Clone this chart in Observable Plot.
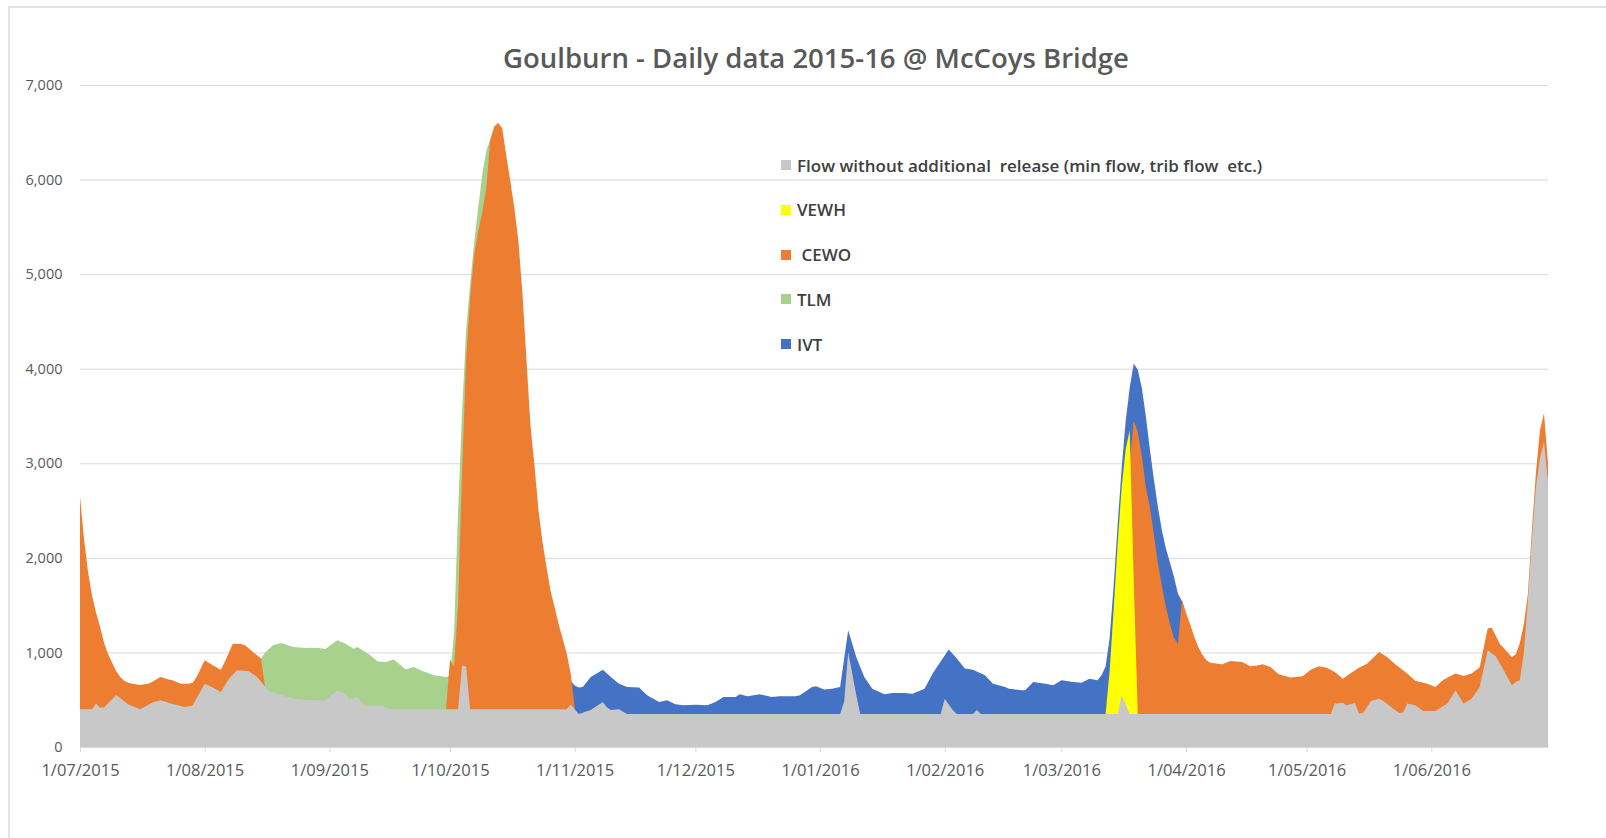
<!DOCTYPE html>
<html>
<head>
<meta charset="utf-8">
<script src="https://cdn.jsdelivr.net/npm/d3@7"></script>
<script src="https://cdn.jsdelivr.net/npm/@observablehq/plot@0.6"></script>
<style>
  body { margin: 0; background: #fff; font-family: "Open Sans", sans-serif; }
  #wrap { position: relative; width: 1606px; height: 838px; overflow: hidden; background: #fff; }
  #frame { position: absolute; left: 8px; top: 6px; width: 1700px; height: 900px;
           border-left: 2px solid #e3e3e3; border-top: 2px solid #e3e3e3; }
  #title { position: absolute; left: 0; width: 1632px; top: 40px; text-align: center;
           font-size: 27.5px; font-weight: 600; color: #595959; line-height: 36px; }
  #chart { position: absolute; left: 0; top: 70px; }
  #legend { position: absolute; left: 781px; top: 154px; }
  .row { display: flex; align-items: center; height: 22px; margin-bottom: 22.75px; }
  .sw { width: 10px; height: 10px; margin-right: 6px; }
  .lab { font-size: 17px; font-weight: 600; color: #404040; white-space: pre; }
  #chart g[aria-label="x-axis tick label"] { font-size: 16.5px; }
</style>
</head>
<body>
<div id="wrap">
  <div id="frame"></div>
  <div id="title">Goulburn - Daily data 2015-16 @ McCoys Bridge</div>
  <div id="chart"></div>
  <div id="legend"></div>
</div>
<script>
// ---- Data (ML/day) ----
const flow = [
  ["2015-07-01",400],["2015-07-04",400],["2015-07-05",460],["2015-07-06",415],["2015-07-07",420],
  ["2015-07-10",550],["2015-07-13",450],["2015-07-16",400],["2015-07-19",470],["2015-07-21",494],
  ["2015-07-24",455],["2015-07-27",423],["2015-07-29",440],["2015-08-01",670],["2015-08-03",630],
  ["2015-08-05",582],["2015-08-07",720],["2015-08-09",811],["2015-08-12",800],["2015-08-14",740],
  ["2015-08-16",640],["2015-08-17",590],["2015-08-20",550],["2015-08-23",511],["2015-08-27",494],
  ["2015-08-31",494],["2015-09-03",600],["2015-09-05",560],["2015-09-06",500],["2015-09-08",529],
  ["2015-09-10",430],["2015-09-12",440],["2015-09-14",440],["2015-09-16",400],["2015-10-03",400],
  ["2015-10-04",860],["2015-10-05",850],["2015-10-06",400],["2015-10-30",400],["2015-10-31",450],
  ["2015-11-01",400],["2015-11-02",350],["2015-11-05",390],["2015-11-08",476],["2015-11-09",420],
  ["2015-11-10",390],["2015-11-12",400],["2015-11-14",350],["2016-01-06",350],["2016-01-07",480],
  ["2016-01-08",1005],["2016-01-09",780],["2016-01-10",550],["2016-01-11",350],["2016-01-31",350],
  ["2016-02-01",511],["2016-02-02",450],["2016-02-03",390],["2016-02-04",350],["2016-02-08",350],
  ["2016-02-09",390],["2016-02-10",350],["2016-03-15",350],["2016-03-16",547],["2016-03-17",450],
  ["2016-03-18",350],["2016-05-07",350],["2016-05-08",459],["2016-05-10",466],["2016-05-11",441],
  ["2016-05-13",466],["2016-05-14",355],["2016-05-15",360],["2016-05-17",487],["2016-05-19",511],
  ["2016-05-20",490],["2016-05-22",423],["2016-05-24",360],["2016-05-25",365],["2016-05-26",459],
  ["2016-05-28",441],["2016-05-30",381],["2016-06-02",381],["2016-06-05",459],["2016-06-07",600],
  ["2016-06-09",459],["2016-06-11",511],["2016-06-13",635],["2016-06-15",1023],["2016-06-17",959],
  ["2016-06-19",811],["2016-06-21",652],["2016-06-22",690],["2016-06-23",705],["2016-06-24",1000],
  ["2016-06-25",1550],["2016-06-26",2200],["2016-06-27",2750],["2016-06-28",3050],["2016-06-29",3227],
  ["2016-06-30",2800]
];
const vewh = [
  ["2016-03-12",350],["2016-03-13",800],["2016-03-14",1450],["2016-03-15",2150],["2016-03-16",2750],
  ["2016-03-17",3150],["2016-03-18",3350],["2016-03-19",1750],["2016-03-20",350]
];
const cewo = [
  ["2015-07-01",2646],["2015-07-02",2200],["2015-07-03",1850],["2015-07-04",1600],["2015-07-05",1420],
  ["2015-07-06",1270],["2015-07-07",1100],["2015-07-08",980],["2015-07-09",890],["2015-07-10",800],
  ["2015-07-11",741],["2015-07-12",700],["2015-07-13",680],["2015-07-14",670],["2015-07-16",655],
  ["2015-07-18",670],["2015-07-19",690],["2015-07-21",741],["2015-07-23",715],["2015-07-24",705],
  ["2015-07-26",670],["2015-07-28",670],["2015-07-29",680],["2015-07-30",741],["2015-08-01",917],
  ["2015-08-03",864],["2015-08-05",818],["2015-08-06",900],["2015-08-08",1093],["2015-08-10",1090],
  ["2015-08-11",1076],["2015-08-13",1005],["2015-08-15",935],["2015-08-16",640],["2015-08-17",null],
  ["2015-09-30",400],["2015-10-01",925],["2015-10-02",850],["2015-10-03",1500],["2015-10-04",2900],
  ["2015-10-05",4100],["2015-10-06",4750],["2015-10-07",5200],["2015-10-08",5450],["2015-10-09",5650],
  ["2015-10-10",5900],["2015-10-11",6420],["2015-10-12",6560],["2015-10-13",6600],["2015-10-14",6540],
  ["2015-10-15",6250],["2015-10-16",5980],["2015-10-17",5700],["2015-10-18",5350],["2015-10-19",4800],
  ["2015-10-20",4100],["2015-10-21",3400],["2015-10-22",2980],["2015-10-23",2500],["2015-10-24",2169],
  ["2015-10-25",1900],["2015-10-26",1650],["2015-10-27",1480],["2015-10-28",1300],["2015-10-29",1147],
  ["2015-10-30",990],["2015-10-31",780],["2015-11-01",420],["2015-11-02",null],
  ["2016-03-17",350],["2016-03-18",3000],["2016-03-19",3450],["2016-03-20",3330],["2016-03-21",3080],
  ["2016-03-22",2750],["2016-03-23",2540],["2016-03-24",2250],["2016-03-25",1950],["2016-03-26",1700],
  ["2016-03-27",1480],["2016-03-28",1305],["2016-03-29",1150],["2016-03-30",1093],["2016-03-31",1560],
  ["2016-04-01",1420],["2016-04-02",1300],["2016-04-03",1170],["2016-04-04",1060],["2016-04-05",980],
  ["2016-04-06",920],["2016-04-07",890],["2016-04-10",875],["2016-04-12",910],["2016-04-15",899],
  ["2016-04-17",853],["2016-04-19",864],["2016-04-20",875],["2016-04-22",846],["2016-04-24",770],
  ["2016-04-27",734],["2016-04-30",748],["2016-05-02",818],["2016-05-04",853],["2016-05-06",839],
  ["2016-05-08",794],["2016-05-10",723],["2016-05-12",783],["2016-05-14",839],["2016-05-16",880],
  ["2016-05-19",1005],["2016-05-21",952],["2016-05-23",875],["2016-05-26",776],["2016-05-28",700],
  ["2016-05-31",670],["2016-06-02",635],["2016-06-04",712],["2016-06-07",776],["2016-06-09",750],
  ["2016-06-11",776],["2016-06-13",840],["2016-06-15",1252],["2016-06-16",1262],["2016-06-18",1093],
  ["2016-06-21",952],["2016-06-22",981],["2016-06-23",1100],["2016-06-24",1300],["2016-06-25",1620],
  ["2016-06-26",2300],["2016-06-27",2900],["2016-06-28",3350],["2016-06-29",3530],["2016-06-30",3000]
];
const tlm = [
  ["2015-08-15",935],["2015-08-16",1000],["2015-08-18",1076],["2015-08-20",1100],["2015-08-23",1058],
  ["2015-08-26",1047],["2015-08-29",1050],["2015-08-31",1035],["2015-09-03",1129],["2015-09-05",1093],
  ["2015-09-07",1040],["2015-09-08",1058],["2015-09-11",975],["2015-09-13",905],["2015-09-15",900],
  ["2015-09-17",924],["2015-09-20",820],["2015-09-22",845],["2015-09-24",805],["2015-09-27",760],
  ["2015-09-30",741],["2015-10-01",750],["2015-10-02",1200],["2015-10-03",2500],["2015-10-04",3550],
  ["2015-10-05",4400],["2015-10-06",4900],["2015-10-07",5330],["2015-10-08",5700],["2015-10-09",6050],
  ["2015-10-10",6300],["2015-10-11",6430]
];
const ivt = [
  ["2015-10-31",700],["2015-11-01",650],["2015-11-02",630],["2015-11-03",635],["2015-11-05",741],
  ["2015-11-08",818],["2015-11-10",741],["2015-11-12",670],["2015-11-14",635],["2015-11-17",628],
  ["2015-11-19",547],["2015-11-22",476],["2015-11-24",494],["2015-11-26",451],["2015-11-28",441],
  ["2015-12-01",448],["2015-12-04",441],["2015-12-06",476],["2015-12-08",529],["2015-12-11",529],
  ["2015-12-12",557],["2015-12-14",536],["2015-12-17",557],["2015-12-20",529],["2015-12-22",536],
  ["2015-12-26",536],["2015-12-27",547],["2015-12-30",635],["2015-12-31",642],["2016-01-02",607],
  ["2016-01-04",617],["2016-01-06",635],["2016-01-08",1234],["2016-01-10",952],["2016-01-12",741],
  ["2016-01-14",617],["2016-01-17",557],["2016-01-19",571],["2016-01-22",571],["2016-01-24",564],
  ["2016-01-27",617],["2016-01-29",776],["2016-02-02",1030],["2016-02-04",935],["2016-02-06",829],
  ["2016-02-08",818],["2016-02-11",758],["2016-02-13",670],["2016-02-16",635],["2016-02-17",617],
  ["2016-02-20",600],["2016-02-21",600],["2016-02-23",688],["2016-02-26",670],["2016-02-28",653],
  ["2016-03-01",705],["2016-03-04",688],["2016-03-06",680],["2016-03-08",723],["2016-03-10",705],
  ["2016-03-11",760],["2016-03-12",850],["2016-03-13",1150],["2016-03-14",1700],["2016-03-15",2350],
  ["2016-03-16",2950],["2016-03-17",3450],["2016-03-18",3800],["2016-03-19",4056],["2016-03-20",3990],
  ["2016-03-21",3800],["2016-03-22",3500],["2016-03-23",3150],["2016-03-24",2830],["2016-03-25",2540],
  ["2016-03-26",2290],["2016-03-27",2100],["2016-03-28",1950],["2016-03-29",1800],["2016-03-30",1620],
  ["2016-03-31",1540]
];
const legendLabels = ["Flow without additional  release (min flow, trib flow  etc.)", "VEWH", " CEWO", "TLM", "IVT"];
const legendColors = ["#c8c8c8", "#ffff00", "#ed7d31", "#a9d18e", "#4472c4"];
const yTicks = [0, 1000, 2000, 3000, 4000, 5000, 6000, 7000];
const startDate = "2015-07-01", endDate = "2016-06-30", tickEnd = "2016-07-01";

// ---- Build ----
const parse = d3.utcParse("%Y-%m-%d");
const rows = pairs => pairs.map(([d, v]) => ({date: parse(d), value: v}));
const xTicks = d3.utcMonth.range(parse(startDate), parse(tickEnd));
const fmt = d => `${d.getUTCDate()}/${String(d.getUTCMonth() + 1).padStart(2, "0")}/${d.getUTCFullYear()}`;

// drawn back to front (front-most series last)
const layers = [
  {data: ivt, color: legendColors[4]},
  {data: tlm, color: legendColors[3]},
  {data: cewo, color: legendColors[2]},
  {data: vewh, color: legendColors[1]},
  {data: flow, color: legendColors[0]}
];

const chart = Plot.plot({
  width: 1606,
  height: 768,
  marginTop: 15,
  marginBottom: 91,
  marginLeft: 80,
  marginRight: 58,
  style: {fontFamily: "Open Sans", fontSize: "14.5px", background: "transparent", overflow: "visible"},
  x: {type: "utc", domain: [parse(startDate), parse(endDate)]},
  y: {domain: [0, 7000]},
  marks: [
    Plot.gridY(yTicks, {stroke: "#d9d9d9", strokeOpacity: 1, strokeWidth: 1}),
    ...layers.map(l => Plot.areaY(rows(l.data), {x: "date", y1: 0, y2: "value", fill: l.color})),
    Plot.axisY(yTicks, {tickSize: 0, tickPadding: 18, tickFormat: d3.format(","), fill: "#595959", label: null}),
    Plot.axisX(xTicks, {tickSize: 5, tickPadding: 12, tickFormat: fmt, stroke: "#d9d9d9", fill: "#595959", label: null, fontSize: 16.5})
  ]
});
document.getElementById("chart").appendChild(chart);

const legend = document.getElementById("legend");
legendLabels.forEach((t, i) => {
  const row = document.createElement("div");
  row.className = "row";
  const sw = document.createElement("div");
  sw.className = "sw";
  sw.style.background = legendColors[i];
  const lab = document.createElement("span");
  lab.className = "lab";
  lab.textContent = t;
  row.appendChild(sw);
  row.appendChild(lab);
  legend.appendChild(row);
});
</script>
</body>
</html>
